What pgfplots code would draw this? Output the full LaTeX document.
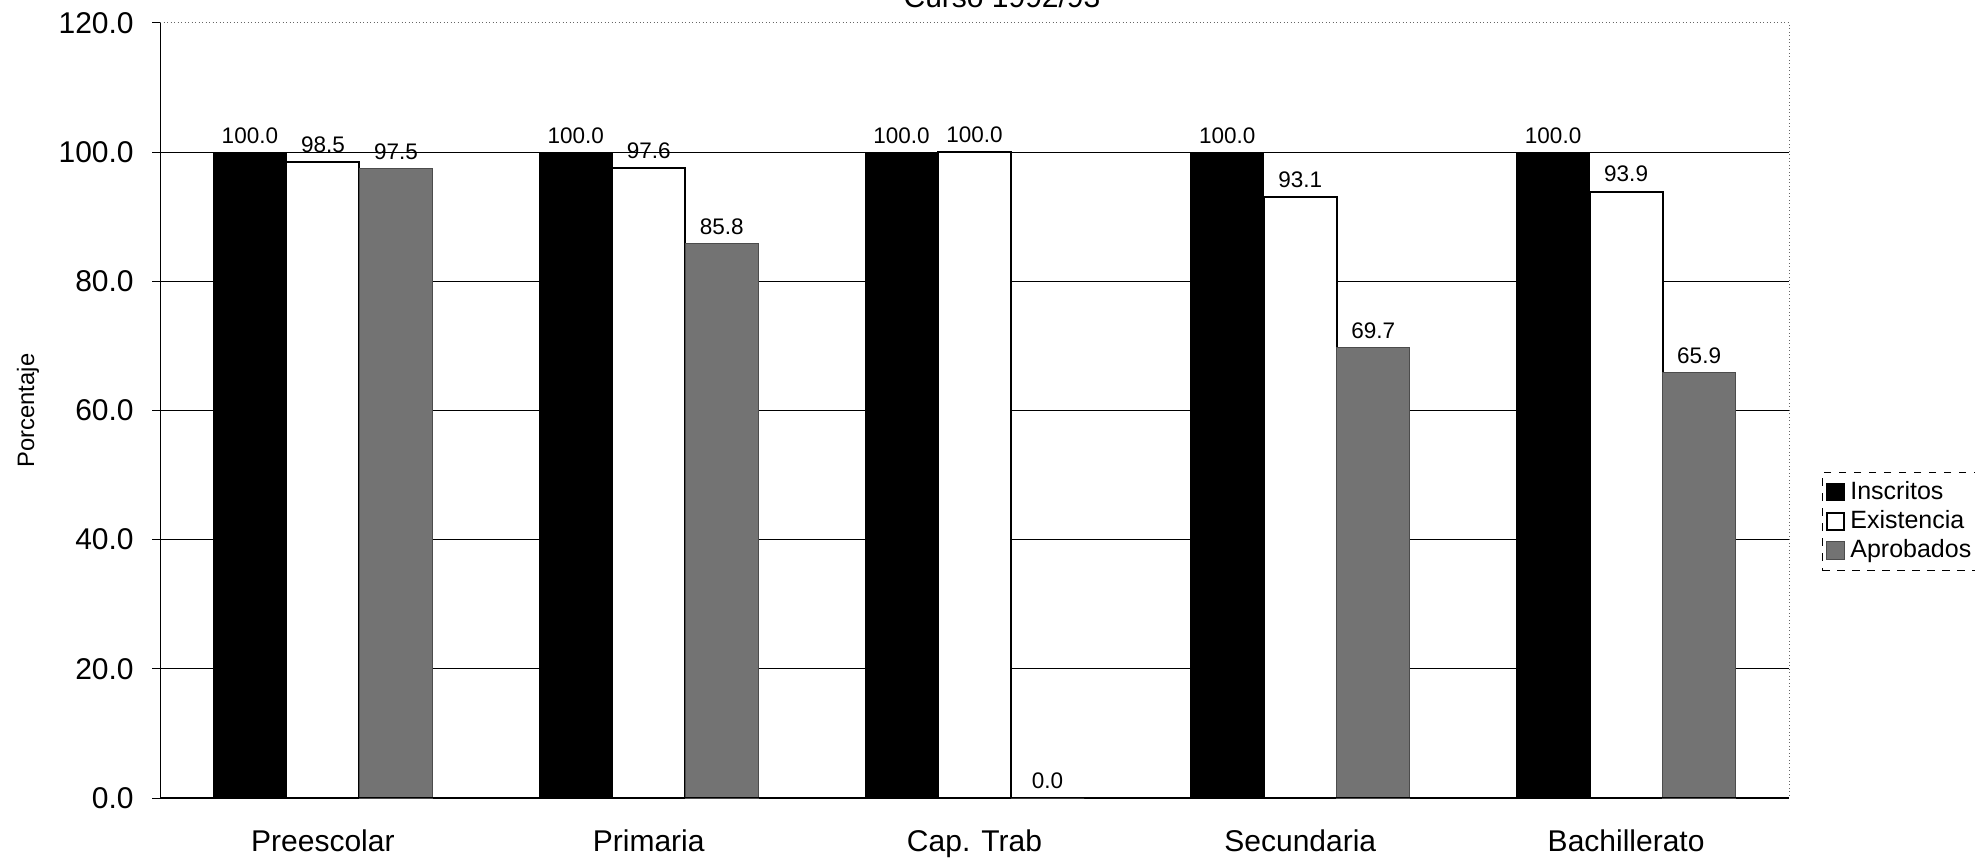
\documentclass[border=0pt]{standalone}
\usepackage{fontspec}
\setmainfont{Liberation Sans}
\usepackage{pgfplots}
\pgfplotsset{compat=1.18}
\begin{document}
\begin{tikzpicture}
\begin{axis}[
  scale only axis,
  width=651.6pt, height=310pt,
  ybar=0pt, bar width=29.2pt,
  xmin=-0.5, xmax=4.5, ymin=0, ymax=120,
  xtick={0,1,2,3,4},
  xticklabels={Preescolar,Primaria,Cap. Trab,Secundaria,Bachillerato},
  xtick style={draw=none},
  xticklabel style={font=\fontsize{12}{14}\selectfont, yshift=-6pt},
  ytick={0,20,40,60,80,100},
  extra y ticks={120},
  extra y tick style={grid=none},
  ytick pos=left,
  yticklabel style={font=\fontsize{12}{14}\selectfont, xshift=-4pt,
    /pgf/number format/.cd, fixed, fixed zerofill, precision=1, assume math mode=true},
  extra y tick labels={120.0},
  tick align=outside, major tick length=3pt,
  ytick style={black, thin},
  ymajorgrids, grid style={black, thin},
  axis line style={draw=none},
  ylabel={Porcentaje},
  ylabel style={at={(rel axis cs:-0.081,0.5)}, anchor=center, font=\fontsize{9.5}{11}\selectfont},
  nodes near coords,
  nodes near coords style={font=\fontsize{9}{10}\selectfont, /pgf/number format/.cd, fixed, fixed zerofill, precision=1, assume math mode=true},
  legend style={at={(rel axis cs:1.02,0.357)}, anchor=west, draw=black, dashed, thin,
    font=\fontsize{10}{12}\selectfont, row sep=-1pt, inner sep=1.5pt,
    /tikz/every even column/.append style={column sep=0pt}},
  legend cell align=left,
  legend image code/.code={\draw[#1, solid] (0pt,-3.5pt) rectangle (7pt,3.5pt);},
]
\addplot[fill=black, draw=black] coordinates {(0,100) (1,100) (2,100) (3,100) (4,100)};
\addplot[fill=white, draw=black, thick] coordinates {(0,98.5) (1,97.6) (2,100) (3,93.1) (4,93.9)};
\addplot[fill=black!55, draw=black!70] coordinates {(0,97.5) (1,85.8) (2,0) (3,69.7) (4,65.9)};
\legend{Inscritos, Existencia, Aprobados}
\coordinate (bl) at (rel axis cs:0,0);
\coordinate (tr) at (rel axis cs:1,1);
\coordinate (tl) at (rel axis cs:0,1);
\coordinate (br) at (rel axis cs:1,0);
\coordinate (tc) at (rel axis cs:0.5,1);
\end{axis}
\draw[black!60, densely dotted] (tl) -- (tr) -- (br);
\draw[black, thin] (tl) -- (bl) -- (br);
\node[anchor=base, font=\fontsize{12}{14}\selectfont] at ([xshift=11pt, yshift=6pt]tc) {Curso 1992/93};
\pgfresetboundingbox
\path[use as bounding box] ([shift={(-64pt,-25.2pt)}]bl) rectangle ([shift={(74.4pt,9.2pt)}]tr);
\end{tikzpicture}
\end{document}
